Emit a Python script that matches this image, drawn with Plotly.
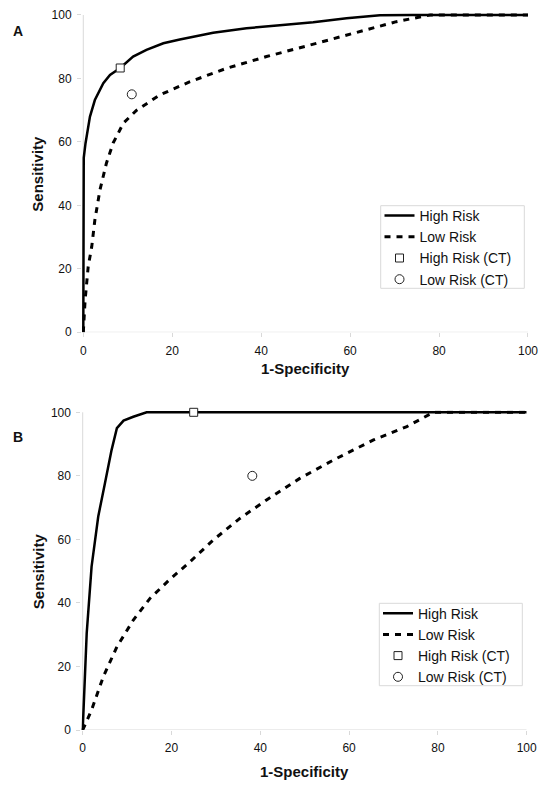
import plotly.graph_objects as go

# ---- data ----
A_high_x = [0, 0, 0.1, 0.5, 1.5, 2.6, 4.5, 6, 8.3, 11.2, 14.2, 18, 21.7, 29.2, 36.7, 44.2, 51.7, 59.2, 66.7, 74, 100]
A_high_y = [0, 40, 55, 59.6, 68, 73.2, 78.5, 81.1, 83.3, 86.9, 89, 91.1, 92.3, 94.4, 95.8, 96.8, 97.7, 99, 99.9, 100, 100]
A_low_x = [0, 0.4, 1.1, 1.9, 2.6, 3.75, 5.2, 6.7, 9, 12, 17.2, 24, 32.2, 41.2, 50.9, 60.7, 70.4, 78, 100]
A_low_y = [0, 10, 20.7, 27, 35.4, 44.9, 53.3, 59.6, 65.9, 70, 74.8, 79, 83.2, 86.9, 90.5, 94.2, 97.9, 100, 100]
A_ct_high = ([8.3], [83.3])
A_ct_low = ([10.9], [75])

B_high_x = [0, 0.3, 0.9, 2, 3.5, 5, 6.5, 7.7, 9.2, 11.4, 14.4, 100]
B_high_y = [0, 9.4, 30.4, 51.4, 67.2, 77.6, 88.1, 95, 97.4, 98.6, 100, 100]
B_low_x = [0, 2, 4.65, 7.7, 11.4, 15.2, 19.7, 24.2, 29.4, 35.4, 41.4, 48.9, 56.5, 65.5, 73, 79, 100]
B_low_y = [0, 6.3, 16.8, 26.2, 34.6, 41.5, 47.5, 53, 59.8, 66.6, 72.4, 79.2, 85, 91.3, 95.5, 100, 100]
B_ct_high = ([25], [100])
B_ct_low = ([38.2], [80])

tick_vals = [0, 20, 40, 60, 80, 100]
tick_text = ["0", "20", "40", "60", "80", "100"]
panel_labels = ["A", "B"]
series_names = ["High Risk", "Low Risk", "High Risk (CT)", "Low Risk (CT)"]
x_title = "1-Specificity"
y_title = "Sensitivity"

W, H = 541, 785
FONT = "Liberation Sans, Arial, sans-serif"
AXC = "#d9d9d9"

fig = go.Figure()

panels = [
    dict(hx=A_high_x, hy=A_high_y, lx=A_low_x, ly=A_low_y, cth=A_ct_high, ctl=A_ct_low,
         xa="x", ya="y", leg="legend"),
    dict(hx=B_high_x, hy=B_high_y, lx=B_low_x, ly=B_low_y, cth=B_ct_high, ctl=B_ct_low,
         xa="x2", ya="y2", leg="legend2"),
]

for p in panels:
    fig.add_trace(go.Scatter(x=p["hx"], y=p["hy"], mode="lines", name=series_names[0],
                             line=dict(color="black", width=2.5), xaxis=p["xa"], yaxis=p["ya"],
                             legend=p["leg"]))
    fig.add_trace(go.Scatter(x=p["lx"], y=p["ly"], mode="lines", name=series_names[1],
                             line=dict(color="black", width=3, dash="6px,6px"), xaxis=p["xa"], yaxis=p["ya"],
                             legend=p["leg"]))
    fig.add_trace(go.Scatter(x=p["cth"][0], y=p["cth"][1], mode="markers", name=series_names[2],
                             marker=dict(symbol="square", size=8, color="white",
                                         line=dict(color="#222", width=1)),
                             cliponaxis=False, xaxis=p["xa"], yaxis=p["ya"], legend=p["leg"]))
    fig.add_trace(go.Scatter(x=p["ctl"][0], y=p["ctl"][1], mode="markers", name=series_names[3],
                             marker=dict(symbol="circle", size=9, color="white",
                                         line=dict(color="#222", width=1)),
                             cliponaxis=False, xaxis=p["xa"], yaxis=p["ya"], legend=p["leg"]))

# pixel geometry
geo = {
    "A": dict(x0=83.3, x100=528.0, y0=332.3, y100=15.0),
    "B": dict(x0=82.7, x100=526.7, y0=730.0, y100=412.3),
}
XMIN, YMAX = -0.3, 100.6

def axes_for(g):
    pxu = (g["x100"] - g["x0"]) / 100.0
    pyu = (g["y0"] - g["y100"]) / 100.0
    left = g["x0"] + XMIN * pxu
    right = g["x100"]
    top = g["y100"] - (YMAX - 100) * pyu
    bottom = g["y0"]
    return [left / W, right / W], [1 - bottom / H, 1 - top / H]

common_x = dict(range=[XMIN, 100], tickvals=tick_vals, ticktext=tick_text, ticks="outside",
                ticklen=4, tickcolor=AXC, showline=False, showgrid=False, zeroline=False,
                tickfont=dict(family=FONT, size=12, color="#111"), ticklabelstandoff=3,
                layer="below traces", fixedrange=True, automargin=False)
common_y = dict(range=[0, YMAX], tickvals=tick_vals, ticktext=tick_text, ticks="outside",
                ticklen=4, tickcolor=AXC, showline=False, showgrid=False, zeroline=False,
                tickfont=dict(family=FONT, size=12, color="#111"), ticklabelstandoff=3,
                layer="below traces", fixedrange=True, automargin=False)

xdA, ydA = axes_for(geo["A"])
xdB, ydB = axes_for(geo["B"])

fig.update_layout(
    xaxis=dict(domain=xdA, anchor="y", **common_x),
    yaxis=dict(domain=ydA, anchor="x", **common_y),
    xaxis2=dict(domain=xdB, anchor="y2", **common_x),
    yaxis2=dict(domain=ydB, anchor="x2", **common_y),
)

# axis lines as shapes (from 0 to 100)
for xr, yr in [("x", "y"), ("x2", "y2")]:
    fig.add_shape(type="line", xref=xr, yref=yr, x0=0, x1=100, y0=0, y1=0,
                  line=dict(color=AXC, width=1), layer="below")
    fig.add_shape(type="line", xref=xr, yref=yr, x0=0, x1=0, y0=0, y1=100,
                  line=dict(color=AXC, width=1), layer="below")

# legend frames (drawn as shapes so that their size matches the reference)
legend_boxes = [(380.7, 205.7, 524.3, 288.3), (379.3, 603.3, 522.3, 685.7)]
for (bx0, by0, bx1, by1) in legend_boxes:
    fig.add_shape(type="rect", xref="paper", yref="paper",
                  x0=bx0 / W, x1=bx1 / W, y0=1 - by1 / H, y1=1 - by0 / H,
                  line=dict(color=AXC, width=1), fillcolor="white", layer="below")

legend_style = dict(font=dict(family=FONT, size=14, color="#111"), bgcolor="rgba(0,0,0,0)",
                    borderwidth=0, xanchor="left", yanchor="top",
                    xref="paper", yref="paper", tracegroupgap=0)
fig.update_layout(
    legend=dict(x=379.5 / W, y=1 - 200.0 / H, **legend_style),
    legend2=dict(x=378.0 / W, y=1 - 597.6 / H, **legend_style),
)

# annotations: axis titles and panel labels
ann = []
title_font = dict(family=FONT, size=15, color="#111", weight="bold")
for xr, yr, ytitle_px, lab, lab_y in [("x", "y", 368, panel_labels[0], 31), ("x2", "y2", 771, panel_labels[1], 437)]:
    ann.append(dict(text=x_title, xref=xr, yref="paper", x=50, y=1 - ytitle_px / H,
                    showarrow=False, font=title_font, xanchor="center", yanchor="middle"))
    ann.append(dict(text=y_title, xref="paper", yref=yr, x=38 / W, y=50, textangle=-90,
                    showarrow=False, font=title_font, xanchor="center", yanchor="middle"))
    ann.append(dict(text=lab, xref="paper", yref="paper", x=18 / W, y=1 - lab_y / H,
                    showarrow=False, font=dict(family=FONT, size=14, color="#111", weight="bold"),
                    xanchor="center", yanchor="middle"))
fig.update_layout(annotations=ann)

fig.update_layout(width=W, height=H, margin=dict(l=0, r=0, t=0, b=0, pad=0, autoexpand=False),
                  paper_bgcolor="white", plot_bgcolor="white", showlegend=True,
                  font=dict(family=FONT))

fig.write_html("out.html", config={"displayModeBar": False},
               post_script="document.body.style.margin='0';document.body.style.overflow='hidden';")
